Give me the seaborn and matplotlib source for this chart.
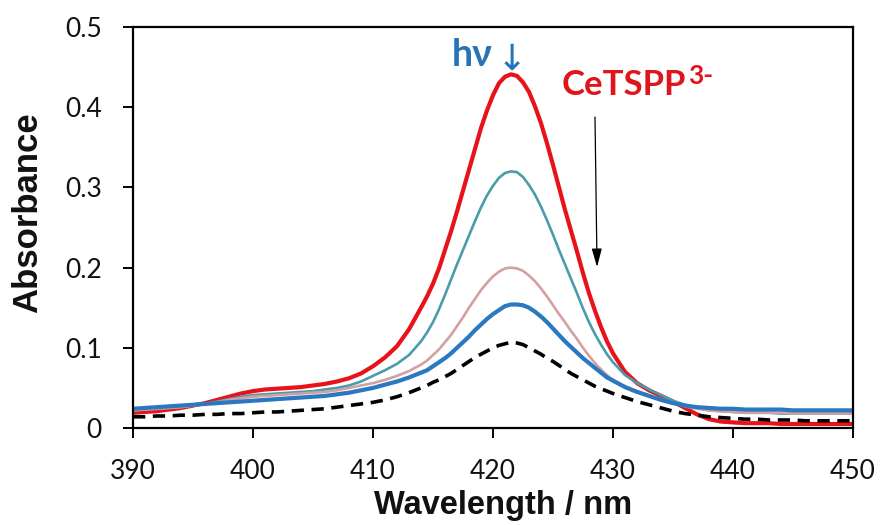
import matplotlib
matplotlib.use("Agg")
import matplotlib.pyplot as plt
import seaborn as sns
import pandas as pd

# Absorption spectra of CeTSPP3- during irradiation (Soret band region).
# 1 nm steps in the wings, 0.5 nm steps across the band maximum.
wavelength = list(range(390, 414)) + [v / 2 for v in range(828, 860)] + list(range(430, 451))

absorb_initial = [  # CeTSPP3- before irradiation
    0.019, 0.020, 0.021, 0.023, 0.025, 0.028, 0.031, 0.035, 0.039, 0.043,
    0.046, 0.048, 0.049, 0.050, 0.051, 0.053, 0.055, 0.058, 0.062, 0.068,
    0.077, 0.088, 0.102, 0.123,
    0.150, 0.164, 0.180, 0.199, 0.222, 0.245, 0.270, 0.296, 0.322, 0.348,
    0.374, 0.396, 0.415, 0.430, 0.438, 0.441, 0.439, 0.431, 0.419, 0.401,
    0.380, 0.355, 0.328, 0.300, 0.272, 0.246, 0.220, 0.193, 0.168, 0.146,
    0.126, 0.108,
    0.093, 0.070, 0.056, 0.047, 0.040, 0.033, 0.025, 0.017, 0.011, 0.008,
    0.007, 0.006, 0.006, 0.006, 0.005, 0.005, 0.005, 0.005, 0.005, 0.005,
    0.005]

absorb_step1 = [
    0.022, 0.023, 0.024, 0.025, 0.026, 0.028, 0.030, 0.033, 0.036, 0.039,
    0.041, 0.042, 0.043, 0.044, 0.045, 0.046, 0.048, 0.050, 0.053, 0.058,
    0.065, 0.072, 0.080, 0.091,
    0.108, 0.119, 0.132, 0.148, 0.166, 0.185, 0.204, 0.222, 0.240, 0.258,
    0.275, 0.290, 0.302, 0.312, 0.318, 0.320, 0.319, 0.313, 0.303, 0.291,
    0.276, 0.259, 0.241, 0.222, 0.204, 0.186, 0.168, 0.149, 0.132, 0.117,
    0.104, 0.092,
    0.082, 0.066, 0.056, 0.048, 0.041, 0.034, 0.029, 0.025, 0.022, 0.021,
    0.020, 0.019, 0.019, 0.019, 0.018, 0.018, 0.018, 0.018, 0.018, 0.018,
    0.018]

absorb_step2 = [
    0.022, 0.023, 0.024, 0.025, 0.026, 0.028, 0.030, 0.032, 0.035, 0.037,
    0.039, 0.040, 0.041, 0.042, 0.043, 0.044, 0.045, 0.047, 0.050, 0.053,
    0.056, 0.060, 0.065, 0.071,
    0.079, 0.084, 0.091, 0.098, 0.107, 0.116, 0.127, 0.138, 0.150, 0.161,
    0.172, 0.181, 0.189, 0.195, 0.199, 0.200, 0.199, 0.196, 0.190, 0.183,
    0.174, 0.164, 0.153, 0.142, 0.132, 0.121, 0.111, 0.100, 0.090, 0.081,
    0.073, 0.066,
    0.060, 0.052, 0.046, 0.041, 0.036, 0.032, 0.027, 0.024, 0.022, 0.021,
    0.020, 0.019, 0.019, 0.019, 0.019, 0.018, 0.018, 0.018, 0.018, 0.018,
    0.018]

absorb_step3 = [
    0.024, 0.025, 0.026, 0.027, 0.028, 0.029, 0.030, 0.031, 0.032, 0.033,
    0.034, 0.035, 0.036, 0.037, 0.038, 0.039, 0.040, 0.042, 0.044, 0.047,
    0.050, 0.054, 0.058, 0.063,
    0.069, 0.072, 0.077, 0.082, 0.087, 0.093, 0.100, 0.107, 0.114, 0.122,
    0.129, 0.136, 0.142, 0.147, 0.152, 0.154, 0.154, 0.153, 0.150, 0.145,
    0.139, 0.132, 0.124, 0.116, 0.108, 0.101, 0.094, 0.087, 0.081, 0.075,
    0.069, 0.063,
    0.059, 0.051, 0.045, 0.040, 0.035, 0.031, 0.028, 0.026, 0.025, 0.024,
    0.024, 0.023, 0.023, 0.023, 0.023, 0.022, 0.022, 0.022, 0.022, 0.022,
    0.022]

absorb_final = [
    0.014, 0.014, 0.015, 0.015, 0.016, 0.016, 0.017, 0.017, 0.018, 0.018,
    0.019, 0.020, 0.020, 0.021, 0.022, 0.023, 0.024, 0.026, 0.028, 0.030,
    0.032, 0.035, 0.039, 0.044,
    0.050, 0.053, 0.057, 0.060, 0.064, 0.068, 0.073, 0.078, 0.083, 0.088,
    0.092, 0.096, 0.100, 0.103, 0.105, 0.107, 0.106, 0.104, 0.100, 0.096,
    0.092, 0.087, 0.083, 0.078, 0.073, 0.068, 0.064, 0.060, 0.056, 0.052,
    0.049, 0.046,
    0.043, 0.038, 0.033, 0.029, 0.025, 0.021, 0.018, 0.016, 0.014, 0.013,
    0.012, 0.011, 0.011, 0.010, 0.010, 0.010, 0.009, 0.009, 0.009, 0.009,
    0.009]

x_ticks = [390, 400, 410, 420, 430, 440, 450]
y_ticks = [0, 0.1, 0.2, 0.3, 0.4, 0.5]
y_tick_labels = ["0", "0.1", "0.2", "0.3", "0.4", "0.5"]

sns.set_theme(style="white")
plt.rcParams["font.family"] = ["Lato", "DejaVu Sans"]

W, H = 883, 525
fig = plt.figure(figsize=(W / 100, H / 100), dpi=100)
ax = fig.add_axes([133 / W, 1 - 428 / H, 720 / W, 401 / H])

df = pd.DataFrame({
    "wl": wavelength,
    "a0": absorb_initial,
    "a1": absorb_step1,
    "a2": absorb_step2,
    "a3": absorb_step3,
    "a4": absorb_final,
})

styles = [
    ("a0", "#E8121A", 3.0, "-"),
    ("a1", "#4B9CAB", 1.9, "-"),
    ("a2", "#D3A1A1", 1.9, "-"),
    ("a3", "#2A78C0", 3.0, "-"),
    ("a4", "#000000", 2.6, (0, (3.4, 2.1))),
]
for col, color, lw, ls in styles:
    sns.lineplot(data=df, x="wl", y=col, ax=ax, color=color, linewidth=lw,
                 linestyle=ls, solid_capstyle="butt", solid_joinstyle="round")

ax.set_xlim(390, 450)
ax.set_ylim(0, 0.5)
ax.set_xticks(x_ticks)
ax.set_xticklabels([str(v) for v in x_ticks])
ax.set_yticks(y_ticks)
ax.set_yticklabels(y_tick_labels)

for sp in ax.spines.values():
    sp.set_color("black")
    sp.set_linewidth(1.6)
    sp.set_visible(True)

ax.tick_params(axis="both", which="major", direction="out", length=7.5,
               width=1.4, color="black", labelsize=19, labelcolor="#111111",
               pad=15, bottom=True, left=True, top=False, right=False)

ax.set_xlabel("Wavelength / nm", fontsize=23.5, fontweight="bold",
              family="Liberation Sans", color="#111111")
ax.set_ylabel("Absorbance", fontsize=25, fontweight="bold",
              family="Liberation Sans", color="#111111")
ax.xaxis.set_label_coords((503 - 133) / 720, (428 - 490) / 401)
ax.yaxis.set_label_coords((44 - 133) / 720, (428 - 213) / 401)

# Irradiation label
hv = fig.text(452 / W, 1 - 66 / H, "hν", color="#2574B5", fontsize=27,
              fontweight="bold", ha="left", va="baseline")
fig.canvas.draw()
hb = hv.get_window_extent()
fig.text(hb.x1 / W + 0.004, 1 - 70 / H, "↓", color="#2574B5", fontsize=26,
         family="DejaVu Sans", ha="left", va="baseline")

# Species label with superscript charge
label = fig.text(562 / W, 1 - 95 / H, "CeTSPP", color="#E0151B", fontsize=25,
                 fontweight="bold", ha="left", va="baseline")
fig.canvas.draw()
bb = label.get_window_extent()
fig.text(bb.x1 / W + 0.002, 1 - 84 / H, "3-", color="#E0151B", fontsize=19,
         fontweight="bold", ha="left", va="baseline")

# Arrow indicating decrease of the Soret band
ax.annotate("", xy=(428.67, 0.2007), xytext=(428.5, 0.3878),
            arrowprops=dict(arrowstyle="-|>,head_length=0.8,head_width=0.22",
                            color="black", lw=0.9, mutation_scale=14,
                            shrinkA=0, shrinkB=0))

fig.savefig("out.png", dpi=100, facecolor="white")
